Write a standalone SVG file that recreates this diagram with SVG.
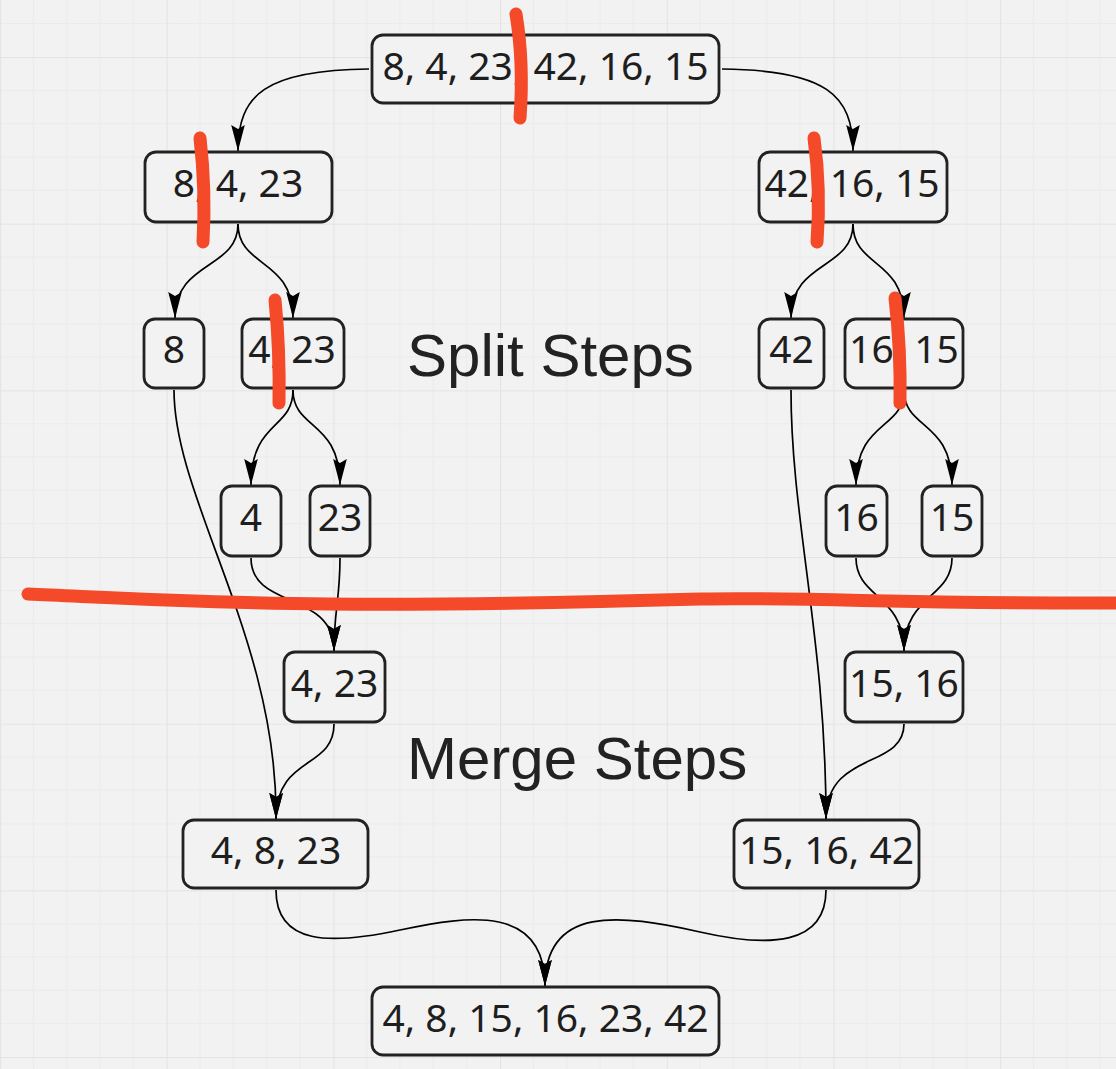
<svg xmlns="http://www.w3.org/2000/svg" width="1116" height="1069" viewBox="0 0 1116 1069">
  <defs>
    <pattern id="grid" patternUnits="userSpaceOnUse" x="0" y="-109.67" width="166.67" height="166.67">
      <rect width="166.67" height="166.67" fill="#f2f2f2"/>
      <path d="M33.33 0V166.67M66.67 0V166.67M100 0V166.67M133.33 0V166.67M0 33.33H166.67M0 66.67H166.67M0 100H166.67M0 133.33H166.67" stroke="#ebebeb" stroke-width="1" fill="none"/>
      <path d="M0.5 0V166.67M0 0.5H166.67" stroke="#e4e4e4" stroke-width="1.2" fill="none"/>
    </pattern>
    <marker id="arrow" markerUnits="userSpaceOnUse" markerWidth="27" markerHeight="16" viewBox="0 0 27 16" refX="26" refY="8" orient="auto">
      <path d="M0 1.2 L26 8 L0 14.8 L4 8 Z" fill="#000"/>
    </marker>
    <style>
      .node rect { fill: #f2f2f2; stroke: #222; stroke-width: 2.8; }
      .node text { font-family: "Noto Sans", "Open Sans", sans-serif; font-size: 39px; fill: #1e1e1e; text-anchor: middle; }
      .conn path { fill: none; stroke: #000; stroke-width: 1.7; marker-end: url(#arrow); }
      .title { font-family: "Liberation Sans", Arial, sans-serif; font-size: 60px; fill: #222; }
      .mark path { fill: none; stroke: #f44a29; stroke-width: 13; stroke-linecap: round; }
    </style>
  </defs>
  <rect width="1116" height="1069" fill="url(#grid)"/>

  <g id="connectors" class="conn">
    <path d="M369 69 C265 70 238 95 238 151"/>
    <path d="M722 69 C826 70 853 95 853 151"/>
    <path d="M238 224 C238 270 175 260 175 318"/>
    <path d="M238 224 C238 268 293 258 293 318"/>
    <path d="M853 224 C853 270 791 260 791 318"/>
    <path d="M853 224 C853 268 904 258 904 318"/>
    <path d="M293 390 C293 430 251 420 251 485"/>
    <path d="M293 390 C293 430 340 420 340 485"/>
    <path d="M904 390 C904 430 856 420 856 485"/>
    <path d="M904 390 C904 430 952 420 952 485"/>
    <path d="M251 558 C251 610 334 590 334 651"/>
    <path d="M340 558 C340 600 334 610 334 651"/>
    <path d="M856 558 C856 598 904 595 904 651"/>
    <path d="M952 558 C952 598 904 595 904 651"/>
    <path d="M174 390 C174 500 278 640 276 819"/>
    <path d="M791 390 C791 520 826 640 826 819"/>
    <path d="M334 724 C334 770 276 755 276 819"/>
    <path d="M904 724 C904 770 826 750 826 819"/>
    <path d="M276 890 C276 945 330 945 400 930 C470 915 545 905 545 986"/>
    <path d="M826 890 C826 945 770 948 700 932 C620 914 545 905 545 986"/>
  </g>

  <g id="n-root" class="node"><rect x="372" y="35" width="347" height="68" rx="11"/><text x="545.5" y="80">8, 4, 23, 42, 16, 15</text></g>
  <g id="n-left" class="node"><rect x="145" y="152" width="187" height="70" rx="11"/><text x="238" y="197">8, 4, 23</text></g>
  <g id="n-right" class="node"><rect x="759" y="152" width="188" height="70" rx="11"/><text x="852" y="197">42, 16, 15</text></g>
  <g id="n-8" class="node"><rect x="144" y="319" width="60" height="69" rx="11"/><text x="174" y="363">8</text></g>
  <g id="n-4-23" class="node"><rect x="242" y="319" width="102" height="69" rx="11"/><text x="292" y="363">4, 23</text></g>
  <g id="n-42" class="node"><rect x="759" y="319" width="65" height="69" rx="11"/><text x="791.5" y="363">42</text></g>
  <g id="n-16-15" class="node"><rect x="845" y="319" width="118" height="69" rx="11"/><text x="904" y="363">16, 15</text></g>
  <g id="n-4" class="node"><rect x="221" y="486" width="60" height="70" rx="11"/><text x="251" y="531">4</text></g>
  <g id="n-23" class="node"><rect x="310" y="486" width="60" height="70" rx="11"/><text x="340" y="531">23</text></g>
  <g id="n-16" class="node"><rect x="826" y="486" width="61" height="70" rx="11"/><text x="856.5" y="531">16</text></g>
  <g id="n-15" class="node"><rect x="922" y="486" width="60" height="70" rx="11"/><text x="952" y="531">15</text></g>
  <g id="m-4-23" class="node"><rect x="284" y="652" width="101" height="70" rx="11"/><text x="334.5" y="697">4, 23</text></g>
  <g id="m-15-16" class="node"><rect x="845" y="652" width="118" height="70" rx="11"/><text x="904" y="697">15, 16</text></g>
  <g id="m-4-8-23" class="node"><rect x="183" y="820" width="185" height="68" rx="11"/><text x="276" y="864">4, 8, 23</text></g>
  <g id="m-15-16-42" class="node"><rect x="734" y="820" width="185" height="68" rx="11"/><text x="826.5" y="864">15, 16, 42</text></g>
  <g id="m-final" class="node"><rect x="372" y="987" width="347" height="68" rx="11"/><text x="545.5" y="1032">4, 8, 15, 16, 23, 42</text></g>

  <text class="title" x="407" y="376">Split Steps</text>
  <text class="title" x="407" y="779">Merge Steps</text>

  <g id="marks" class="mark">
    <path d="M516 14 Q524 62 520 118"/>
    <path d="M200 138 Q206 190 203 242"/>
    <path d="M814 138 Q821 190 817 242"/>
    <path d="M275 300 Q280 350 279 403"/>
    <path d="M895 298 Q901 350 900 403"/>
    <path d="M28 594 C120 598 200 603 330 604 C460 605 560 603 700 599 C820 597 900 604 1122 603"/>
  </g>
</svg>
